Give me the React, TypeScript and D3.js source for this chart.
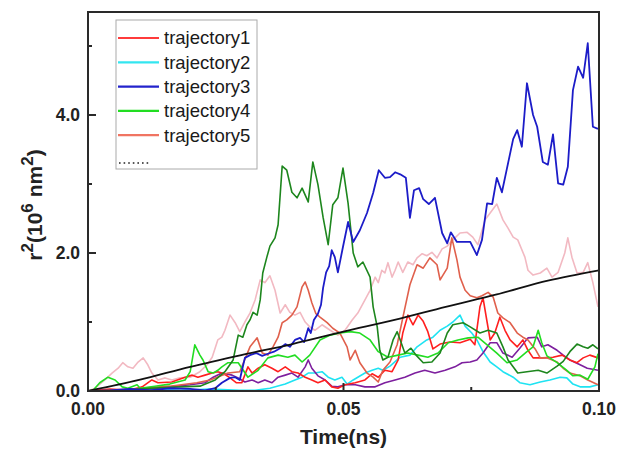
import React from "react";
import * as d3 from "d3";

// r^2 vs time: [time (ns), r^2 (10^6 nm^2)]
const legendNames = ["trajectory1", "trajectory2", "trajectory3", "trajectory4", "trajectory5"];
const legendColors = ["#ff3b3b", "#33e6f0", "#2323cc", "#22dd22", "#f07462"];

const xMajor = [0, 0.05, 0.1];
const xMinor = [0.025, 0.075];
const yMajor = [0, 2, 4];
const yMinor = [1, 3, 5];

const trajectory1 = [
  [0, 0], [0.001, 0.01], [0.0043, 0.03], [0.0082, 0.01], [0.0106, 0.06], [0.0125, 0.16], [0.0137, 0.12],
  [0.0164, 0.13], [0.019, 0.2], [0.0204, 0.23], [0.0215, 0.2], [0.0229, 0.23], [0.0243, 0.26], [0.0254, 0.28],
  [0.0266, 0.25], [0.0278, 0.19], [0.029, 0.12], [0.0301, 0.12], [0.0313, 0.35], [0.0321, 0.26], [0.0333, 0.33],
  [0.0346, 0.38], [0.036, 0.33], [0.0372, 0.28], [0.0386, 0.35], [0.0399, 0.28], [0.0411, 0.26], [0.0425, 0.2],
  [0.0438, 0.16], [0.045, 0.12], [0.0464, 0.16], [0.0477, 0.06], [0.0489, 0.04], [0.0503, 0.09], [0.0523, 0.12],
  [0.0542, 0.16], [0.0556, 0.25], [0.0568, 0.2], [0.0581, 0.3], [0.0595, 0.28], [0.0607, 0.45], [0.0616, 0.84],
  [0.0626, 1.1], [0.0636, 0.96], [0.0646, 1.1], [0.0656, 1.01], [0.0665, 0.86], [0.0675, 0.61], [0.0689, 0.68],
  [0.0708, 0.71], [0.0728, 0.7], [0.0748, 0.75], [0.0757, 0.67], [0.0767, 1.22], [0.0773, 1.35], [0.0781, 1.0],
  [0.0787, 0.74], [0.0796, 0.84], [0.0806, 1.07], [0.0816, 0.88], [0.0826, 0.74], [0.084, 0.64], [0.0851, 0.74],
  [0.0861, 0.59], [0.0871, 0.48], [0.089, 0.48], [0.091, 0.49], [0.0928, 0.52], [0.0943, 0.45], [0.0957, 0.41],
  [0.0969, 0.48], [0.0982, 0.52], [0.0998, 0.48],
];

const trajectory2 = [
  [0, 0], [0.0063, 0.01], [0.0121, 0.03], [0.018, 0.01], [0.0239, 0.03], [0.0297, 0.01], [0.0327, 0.01],
  [0.0356, 0.04], [0.0386, 0.1], [0.0405, 0.16], [0.0419, 0.2], [0.0431, 0.26], [0.0444, 0.26], [0.0458, 0.28],
  [0.047, 0.2], [0.0483, 0.16], [0.0497, 0.2], [0.0507, 0.1], [0.0519, 0.16], [0.0528, 0.2], [0.0542, 0.26],
  [0.0556, 0.3], [0.0568, 0.33], [0.0577, 0.3], [0.0591, 0.36], [0.0611, 0.49], [0.063, 0.52], [0.0644, 0.64],
  [0.0663, 0.74], [0.0675, 0.78], [0.0689, 0.88], [0.0703, 0.94], [0.0714, 1.0], [0.0728, 1.1], [0.0738, 0.94],
  [0.0751, 0.84], [0.0761, 0.74], [0.0773, 0.57], [0.0787, 0.42], [0.08, 0.35], [0.0812, 0.28], [0.0832, 0.2],
  [0.0845, 0.12], [0.0865, 0.09], [0.0885, 0.13], [0.0904, 0.16], [0.0924, 0.2], [0.0937, 0.19], [0.0949, 0.1],
  [0.0963, 0.06], [0.0982, 0.06], [0.0998, 0.09],
];

const trajectory3 = [
  [0, 0], [0.0043, 0.01], [0.0082, 0.03], [0.0121, 0.01], [0.016, 0.04], [0.02, 0.03], [0.0229, 0.01],
  [0.0249, 0.04], [0.0262, 0.12], [0.0278, 0.19], [0.0288, 0.2], [0.0297, 0.16], [0.0307, 0.48], [0.0317, 0.52],
  [0.0329, 0.55], [0.0341, 0.51], [0.0352, 0.54], [0.0364, 0.57], [0.0376, 0.62], [0.0386, 0.68], [0.0395, 0.64],
  [0.0405, 0.74], [0.0415, 0.77], [0.0423, 0.71], [0.0431, 0.91], [0.0436, 0.84], [0.0442, 1.03], [0.045, 1.12],
  [0.0456, 1.25], [0.046, 1.49], [0.0466, 1.72], [0.0472, 1.81], [0.0477, 2.04], [0.0483, 1.94], [0.0489, 1.72],
  [0.0499, 2.09], [0.0509, 2.45], [0.0519, 2.16], [0.0532, 2.33], [0.0546, 2.58], [0.0558, 2.87], [0.0569, 3.2],
  [0.0581, 3.09], [0.0591, 3.1], [0.0601, 3.17], [0.0611, 3.14], [0.0622, 3.09], [0.063, 2.51], [0.0638, 2.91],
  [0.0648, 2.94], [0.0656, 2.78], [0.0667, 2.71], [0.0679, 2.8], [0.0693, 2.29], [0.0703, 2.14], [0.071, 2.3],
  [0.0722, 2.16], [0.0736, 2.16], [0.0748, 2.16], [0.0761, 1.97], [0.0771, 2.19], [0.0781, 2.72], [0.0791, 2.71],
  [0.08, 3.09], [0.081, 2.88], [0.082, 3.23], [0.0832, 3.65], [0.084, 3.78], [0.0849, 3.54], [0.0859, 4.46],
  [0.0871, 4.0], [0.0879, 3.83], [0.089, 3.32], [0.09, 3.28], [0.091, 3.72], [0.092, 3.01], [0.093, 2.99],
  [0.0939, 3.25], [0.0949, 4.36], [0.0959, 4.7], [0.0969, 4.54], [0.0978, 5.04], [0.0988, 3.83], [0.0998, 3.8],
];

const trajectory4 = [
  [0, 0], [0.001, 0.01], [0.0023, 0.12], [0.0039, 0.2], [0.0053, 0.16], [0.0067, 0.06], [0.0078, 0.04],
  [0.0096, 0.09], [0.0102, 0.04], [0.0131, 0.07], [0.016, 0.1], [0.019, 0.16], [0.02, 0.28], [0.0209, 0.67],
  [0.0219, 0.52], [0.0225, 0.45], [0.0235, 0.28], [0.0245, 0.26], [0.0254, 0.3], [0.0262, 0.35], [0.0274, 0.41],
  [0.0294, 0.41], [0.0313, 0.2], [0.0333, 0.3], [0.0352, 0.48], [0.0372, 0.52], [0.0391, 0.49], [0.0405, 0.52],
  [0.0419, 0.42], [0.0434, 0.52], [0.0454, 0.74], [0.0474, 0.81], [0.0493, 0.84], [0.0513, 0.86], [0.0532, 0.84],
  [0.0552, 0.74], [0.0568, 0.57], [0.0587, 0.49], [0.0607, 0.52], [0.0626, 0.55], [0.0646, 0.52], [0.0665, 0.49],
  [0.0685, 0.55], [0.0705, 0.7], [0.0724, 0.74], [0.0744, 0.77], [0.0763, 0.78], [0.0781, 0.67], [0.08, 0.55],
  [0.082, 0.41], [0.084, 0.45], [0.0859, 0.57], [0.0871, 0.64], [0.0881, 0.88], [0.0888, 0.7], [0.0898, 0.51],
  [0.0918, 0.41], [0.0937, 0.3], [0.0949, 0.22], [0.0963, 0.23], [0.0978, 0.17], [0.0992, 0.35], [0.0998, 0.54],
];

const trajectory5 = [
  [0, 0], [0.0043, 0.01], [0.0102, 0.04], [0.016, 0.07], [0.0213, 0.12], [0.0239, 0.16], [0.0274, 0.26],
  [0.0297, 0.28], [0.0317, 0.64], [0.0331, 0.77], [0.0341, 0.55], [0.0352, 0.52], [0.0362, 0.64], [0.0372, 0.78],
  [0.038, 0.99], [0.0389, 1.03], [0.0399, 1.1], [0.0409, 1.22], [0.0419, 1.51], [0.0425, 1.58], [0.0431, 1.46],
  [0.0438, 1.28], [0.0446, 1.12], [0.0454, 1.07], [0.0468, 0.99], [0.0479, 0.91], [0.0493, 0.84], [0.0507, 0.64],
  [0.0513, 0.45], [0.0523, 0.59], [0.0532, 0.41], [0.0546, 0.26], [0.0558, 0.2], [0.0568, 0.13], [0.0577, 0.3],
  [0.0591, 0.42], [0.0605, 0.67], [0.0616, 1.06], [0.063, 1.54], [0.0644, 1.83], [0.0656, 1.78], [0.0669, 1.93],
  [0.0683, 1.83], [0.0689, 1.61], [0.0703, 1.78], [0.0712, 2.22], [0.0722, 1.9], [0.0728, 1.65], [0.0738, 1.46],
  [0.0748, 1.38], [0.0761, 1.35], [0.0771, 1.38], [0.0783, 1.43], [0.0793, 1.36], [0.0802, 1.13], [0.0812, 1.06],
  [0.0826, 0.99], [0.084, 0.84], [0.0851, 0.78], [0.0861, 0.74], [0.0875, 0.61], [0.0885, 0.48], [0.0898, 0.48],
  [0.0918, 0.42], [0.093, 0.33], [0.0943, 0.26], [0.0963, 0.22], [0.0978, 0.16], [0.0998, 0.09],
];

// curves that are plotted but not in the legend
const trajectory6 = [
  [0, 0], [0.0063, 0.01], [0.0121, 0.04], [0.018, 0.06], [0.0219, 0.07], [0.0249, 0.16], [0.0268, 0.28],
  [0.0284, 0.45], [0.0294, 0.81], [0.0303, 0.78], [0.0311, 0.96], [0.0317, 1.03], [0.0323, 1.14], [0.0331, 1.1],
  [0.0337, 1.32], [0.0342, 1.71], [0.035, 1.94], [0.0356, 2.1], [0.0366, 2.22], [0.0372, 2.41], [0.038, 3.26],
  [0.0389, 3.2], [0.0399, 2.88], [0.0409, 2.8], [0.0419, 2.94], [0.0431, 2.74], [0.044, 3.32], [0.045, 2.99],
  [0.046, 2.52], [0.047, 2.12], [0.0479, 2.7], [0.0489, 2.8], [0.0499, 3.23], [0.0509, 2.72], [0.0519, 2.0],
  [0.0528, 1.8], [0.0538, 1.87], [0.0552, 1.65], [0.0558, 1.22], [0.0566, 0.93], [0.0571, 0.59], [0.0577, 0.45],
  [0.0587, 0.49], [0.0597, 0.74], [0.0605, 0.86], [0.0611, 0.74], [0.062, 0.55], [0.0632, 0.62], [0.0642, 0.52],
  [0.0656, 0.41], [0.0673, 0.42], [0.0689, 0.55], [0.0703, 0.84], [0.0714, 0.96], [0.0734, 0.99], [0.0748, 0.93],
  [0.0767, 0.84], [0.0783, 0.88], [0.08, 0.84], [0.0812, 0.64], [0.0822, 0.45], [0.0841, 0.26], [0.0859, 0.28],
  [0.0881, 0.3], [0.0898, 0.26], [0.0918, 0.36], [0.093, 0.43], [0.0943, 0.57], [0.0957, 0.68], [0.0969, 0.64],
  [0.0978, 0.62], [0.0988, 0.67], [0.0998, 0.61],
];

const trajectory7 = [
  [0, 0], [0.0063, 0.01], [0.0121, 0.03], [0.016, 0.06], [0.02, 0.09], [0.0229, 0.12], [0.0245, 0.2],
  [0.0262, 0.26], [0.0282, 0.23], [0.0294, 0.19], [0.0307, 0.13], [0.0321, 0.16], [0.0333, 0.12], [0.0346, 0.16],
  [0.036, 0.12], [0.0372, 0.2], [0.0386, 0.23], [0.0399, 0.26], [0.0411, 0.2], [0.0425, 0.35], [0.0431, 0.45],
  [0.0438, 0.33], [0.045, 0.22], [0.0464, 0.16], [0.0477, 0.07], [0.0489, 0.06], [0.0503, 0.09], [0.0523, 0.09],
  [0.0542, 0.06], [0.0562, 0.06], [0.0581, 0.12], [0.0601, 0.16], [0.062, 0.2], [0.064, 0.26], [0.0659, 0.3],
  [0.0679, 0.26], [0.0699, 0.3], [0.0718, 0.35], [0.0732, 0.41], [0.0748, 0.42], [0.0761, 0.45], [0.0773, 0.55],
  [0.0787, 0.7], [0.08, 0.7], [0.0812, 0.55], [0.083, 0.49], [0.0845, 0.62], [0.0861, 0.77], [0.0879, 0.78],
  [0.0888, 0.64], [0.09, 0.67], [0.0918, 0.59], [0.093, 0.52], [0.0943, 0.45], [0.0963, 0.38], [0.0977, 0.33],
  [0.0998, 0.3],
];

const trajectory8 = [
  [0, 0], [0.0014, 0.04], [0.0033, 0.16], [0.0047, 0.26], [0.0059, 0.33], [0.0068, 0.41], [0.0078, 0.35],
  [0.0088, 0.33], [0.0098, 0.42], [0.0108, 0.48], [0.0117, 0.38], [0.0125, 0.26], [0.0137, 0.16], [0.0151, 0.19],
  [0.0164, 0.16], [0.018, 0.19], [0.02, 0.2], [0.0219, 0.28], [0.0233, 0.38], [0.0243, 0.49], [0.0254, 0.74],
  [0.0262, 0.78], [0.0268, 0.88], [0.0278, 1.1], [0.0288, 0.99], [0.0297, 0.86], [0.0307, 1.0], [0.0317, 1.13],
  [0.0327, 1.32], [0.0337, 1.61], [0.0346, 1.57], [0.0356, 1.67], [0.0366, 1.46], [0.0376, 1.13], [0.0386, 1.25],
  [0.0395, 1.14], [0.0405, 1.1], [0.0415, 1.14], [0.0425, 1.0], [0.0434, 0.93], [0.0444, 0.88], [0.0458, 0.96],
  [0.0474, 0.88], [0.0489, 0.81], [0.0503, 0.88], [0.0517, 1.03], [0.0528, 1.13], [0.0542, 1.32], [0.0552, 1.46],
  [0.0562, 1.65], [0.0568, 1.57], [0.0575, 1.75], [0.0581, 1.71], [0.0587, 1.86], [0.0595, 1.65], [0.0601, 1.75],
  [0.0607, 1.87], [0.0616, 1.72], [0.0626, 1.87], [0.0636, 1.83], [0.0644, 1.93], [0.0654, 1.99], [0.0663, 1.96],
  [0.0673, 2.01], [0.0683, 1.93], [0.0693, 2.06], [0.0703, 2.1], [0.0714, 2.19], [0.0728, 2.29], [0.0742, 2.3],
  [0.0753, 2.23], [0.0763, 2.12], [0.0777, 2.48], [0.0787, 2.58], [0.08, 2.71], [0.0812, 2.48], [0.0822, 2.36],
  [0.0832, 2.23], [0.0841, 2.19], [0.0855, 1.94], [0.0861, 1.75], [0.0871, 1.68], [0.0885, 1.71], [0.0898, 1.78],
  [0.0908, 1.65], [0.092, 1.72], [0.0933, 2.0], [0.0939, 2.22], [0.0947, 1.94], [0.0957, 1.71], [0.0969, 1.72],
  [0.0978, 1.86], [0.0988, 1.57], [0.0998, 1.22],
];

const meanLine = [
  [0, 0], [0.01, 0.16], [0.02, 0.35], [0.03, 0.52], [0.04, 0.68], [0.05, 0.86], [0.06, 1.03],
  [0.07, 1.22], [0.08, 1.4], [0.09, 1.6], [0.1, 1.75],
];

// drawing order: back to front
const series = [
  { data: trajectory8, color: "#f2b9c2", width: 1.6 },
  { data: trajectory2, color: "#1fe3f2", width: 1.6 },
  { data: trajectory7, color: "#7d1f9e", width: 1.6 },
  { data: trajectory1, color: "#ff1f1f", width: 1.6 },
  { data: trajectory5, color: "#e0604c", width: 1.6 },
  { data: trajectory4, color: "#22dd22", width: 1.6 },
  { data: trajectory6, color: "#1d861d", width: 1.6 },
  { data: trajectory3, color: "#1c1cc8", width: 1.8 },
];

const font = "'Liberation Sans', Arial, sans-serif";

export default function App() {
  const width = 617;
  const height = 449;
  const plot = { left: 88, right: 599, top: 12, bottom: 391 };

  const x = d3.scaleLinear().domain([0, 0.1]).range([plot.left, plot.right]);
  const y = d3.scaleLinear().domain([0, 5.493]).range([plot.bottom, plot.top]);

  const line = d3
    .line<number[]>()
    .x((d) => x(d[0]))
    .y((d) => y(d[1]));
  const meanPath = d3
    .line<number[]>()
    .x((d) => x(d[0]))
    .y((d) => y(d[1]))
    .curve(d3.curveMonotoneX)(meanLine as number[][]);

  const legendX = 116;
  const legendY = 20;
  const rowGap = 24.3;

  return (
    <svg
      width={width}
      height={height}
      style={{ position: "absolute", left: 0, top: 0, background: "#fff" }}
    >
      <defs>
        <clipPath id="plotClip">
          <rect x={plot.left} y={plot.top} width={plot.right - plot.left} height={plot.bottom - plot.top} />
        </clipPath>
      </defs>

      <g clipPath="url(#plotClip)" fill="none" strokeLinejoin="round">
        {series.map((s, i) => (
          <path key={i} d={line(s.data as number[][]) || ""} stroke={s.color} strokeWidth={s.width} />
        ))}
        <path d={meanPath || ""} stroke="#111" strokeWidth={1.8} />
      </g>

      {/* frame */}
      <rect
        x={plot.left}
        y={plot.top}
        width={plot.right - plot.left}
        height={plot.bottom - plot.top}
        fill="none"
        stroke="#2a2a2a"
        strokeWidth={2}
      />

      {/* ticks, pointing inward */}
      {yMajor.map((v) => (
        <g key={"ym" + v}>
          <line x1={plot.left} x2={plot.left + 8} y1={y(v)} y2={y(v)} stroke="#2a2a2a" strokeWidth={2} />
          <text
            x={plot.left - 8}
            y={y(v)}
            dy="0.36em"
            textAnchor="end"
            fontFamily={font}
            fontWeight="bold"
            fontSize={17.5}
            fill="#222"
          >
            {d3.format(".1f")(v)}
          </text>
        </g>
      ))}
      {yMinor.map((v) => (
        <line key={"yn" + v} x1={plot.left} x2={plot.left + 4} y1={y(v)} y2={y(v)} stroke="#2a2a2a" strokeWidth={2} />
      ))}
      {xMajor.map((v) => (
        <g key={"xm" + v}>
          <line x1={x(v)} x2={x(v)} y1={plot.bottom} y2={plot.bottom - 8} stroke="#2a2a2a" strokeWidth={2} />
          <text
            x={x(v)}
            y={plot.bottom + 24}
            textAnchor="middle"
            fontFamily={font}
            fontWeight="bold"
            fontSize={17.5}
            fill="#222"
          >
            {d3.format(".2f")(v)}
          </text>
        </g>
      ))}
      {xMinor.map((v) => (
        <line key={"xn" + v} x1={x(v)} x2={x(v)} y1={plot.bottom} y2={plot.bottom - 4} stroke="#2a2a2a" strokeWidth={2} />
      ))}

      {/* axis titles */}
      <text
        x={(plot.left + plot.right) / 2}
        y={444}
        textAnchor="middle"
        fontFamily={font}
        fontWeight="bold"
        fontSize={21}
        fill="#222"
      >
        Time(ns)
      </text>
      <text
        transform={`translate(42, 205) rotate(-90)`}
        textAnchor="middle"
        fontFamily={font}
        fontWeight="bold"
        fontSize={21}
        fill="#222"
      >
        r<tspan fontSize={17} dy={-9}>2</tspan>
        <tspan dy={9}>(10</tspan>
        <tspan fontSize={17} dy={-9}>6</tspan>
        <tspan dy={9}> nm</tspan>
        <tspan fontSize={17} dy={-9}>2</tspan>
        <tspan dy={9}>)</tspan>
      </text>

      {/* legend */}
      <rect x={legendX} y={legendY} width={141} height={149} fill="#fff" stroke="#aaa" strokeWidth={1} />
      {legendNames.map((name, i) => {
        const cy = legendY + 18 + i * rowGap;
        return (
          <g key={name}>
            <line x1={legendX + 2} x2={legendX + 43} y1={cy} y2={cy} stroke={legendColors[i]} strokeWidth={2.2} />
            <text
              x={legendX + 48}
              y={cy}
              dy="0.35em"
              fontFamily={font}
              fontSize={18.5}
              fill="#1a1a1a"
            >
              {name}
            </text>
          </g>
        );
      })}
      <line
        x1={legendX + 3}
        x2={legendX + 34}
        y1={legendY + 143}
        y2={legendY + 143}
        stroke="#222"
        strokeWidth={1.6}
        strokeDasharray="1.6 3"
      />
    </svg>
  );
}
